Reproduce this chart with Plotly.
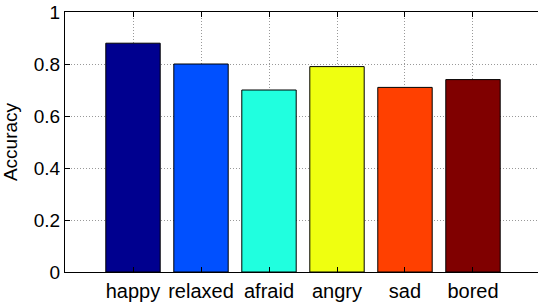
import plotly.graph_objects as go

categories = ["happy", "relaxed", "afraid", "angry", "sad", "bored"]
accuracy = [0.88, 0.80, 0.70, 0.79, 0.71, 0.74]
bar_colors = ["#00008F", "#0050FF", "#20FFDF", "#EFFF10", "#FF4000", "#800000"]
y_ticks = [0, 0.2, 0.4, 0.6, 0.8, 1]
y_tick_labels = ["0", "0.2", "0.4", "0.6", "0.8", "1"]

x_pos = list(range(1, len(categories) + 1))

fig = go.Figure()
fig.add_trace(go.Bar(
    x=x_pos, y=accuracy, width=0.8,
    marker=dict(color=bar_colors, line=dict(color="black", width=1)),
    showlegend=False, hoverinfo="skip",
))

font = "Liberation Sans, Arial, Helvetica, sans-serif"
fig.update_layout(
    width=538, height=305,
    margin=dict(l=65, r=0, t=12, b=33, pad=0),
    paper_bgcolor="white", plot_bgcolor="white",
    font=dict(family=font, size=16, color="black"),
    xaxis=dict(
        range=[0, 6.956], tickmode="array", tickvals=x_pos, ticktext=categories,
        showline=True, linecolor="black", linewidth=1, mirror="ticks",
        ticks="inside", ticklen=5, tickcolor="black", tickwidth=1,
        showgrid=True, gridcolor="#999999", griddash="1px,2px", gridwidth=1,
        zeroline=False, tickfont=dict(size=20, family=font), automargin=False,
        ticklabelstandoff=1,
    ),
    yaxis=dict(
        range=[0, 1], tickmode="array", tickvals=y_ticks, ticktext=y_tick_labels,
        showline=True, linecolor="black", linewidth=1, mirror=False,
        ticks="inside", ticklen=5, tickcolor="black", tickwidth=1,
        showgrid=True, gridcolor="#999999", griddash="1px,2px", gridwidth=1,
        zeroline=False, tickfont=dict(size=19, family=font), automargin=False,
        ticklabelstandoff=0,
        title=dict(text="Accuracy", font=dict(size=19, family=font), standoff=11),
    ),
)

fig.write_html(
    "out.html",
    config={"displayModeBar": False},
    post_script="document.body.style.margin='0';document.body.style.overflow='hidden';",
)
